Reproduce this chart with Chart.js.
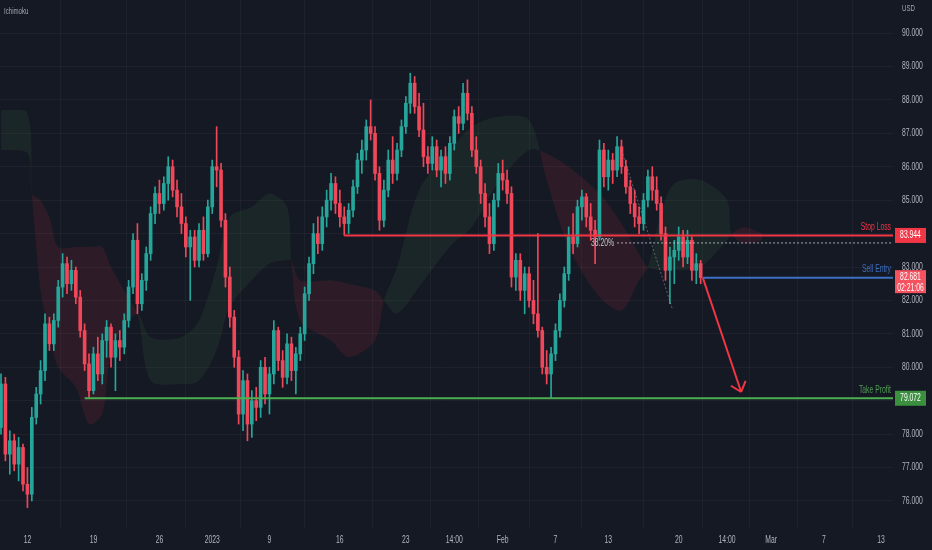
<!DOCTYPE html>
<html>
<head>
<meta charset="utf-8">
<script src="https://cdn.jsdelivr.net/npm/chart.js@4.4.1/dist/chart.umd.min.js"></script>
<style>
  html, body { margin: 0; padding: 0; background: #151924; }
  #wrap { width: 932px; height: 550px; }
</style>
</head>
<body>
<div id="wrap"><canvas id="brent" width="932" height="550"></canvas></div>
<script>
// 4h candles
const opens = [78.2,79.5,77.4,77.8,77.1,77.6,76.5,76.2,78.5,79.2,
  79.9,81.3,80.7,81.4,82.4,83.1,82.5,82.9,82.1,81.1,
  80.1,79.3,80.4,79.8,80.8,81.2,80.3,80.8,80.6,81.4,
  82.4,83.8,81.9,82.6,83.4,84.6,85.2,84.9,85.5,86.0,
  85.3,84.8,84.3,83.6,83.9,83.2,84.1,83.4,84.8,86.0,
  85.9,84.4,82.7,81.5,80.3,78.6,79.6,78.3,79.0,78.8,
  80.0,79.2,79.8,81.1,80.2,79.7,80.7,79.9,80.4,81.0,
  82.2,83.1,84.0,83.7,84.5,85.0,85.5,84.9,84.5,84.3,
  84.7,85.4,86.2,86.5,87.2,87.0,85.8,84.4,85.3,86.2,
  85.8,86.5,87.2,87.9,88.5,87.8,87.1,86.3,86.1,86.6,
  85.9,86.3,85.8,86.7,87.5,87.3,88.2,87.6,86.5,86.0,
  85.2,84.5,83.7,85.0,85.8,85.6,85.2,82.7,83.2,82.3,
  82.8,82.0,81.6,81.1,80.0,79.8,80.4,81.1,82.0,82.8,
  83.9,83.7,84.8,85.1,84.5,84.1,83.9,86.5,85.7,86.2,
  85.9,86.6,86.0,85.4,84.9,84.5,84.3,85.0,85.7,85.3,
  84.9,84.0,82.9,83.3,83.5,83.9,83.3,83.8,82.9,83.1];
const highs = [79.8,79.7,78.1,78.0,77.9,77.7,77.0,78.8,79.4,80.2,
  81.6,81.5,81.6,82.6,83.4,83.3,83.2,83.0,82.3,81.3,
  80.4,80.6,80.9,81.0,81.4,81.3,81.0,81.1,81.6,82.6,
  84.0,84.3,82.8,83.6,84.8,85.4,85.6,85.7,86.3,86.2,
  85.6,85.2,84.5,84.1,84.1,84.3,84.5,85.0,86.2,87.2,
  86.1,84.6,83.0,81.7,80.5,79.9,79.8,79.3,79.4,80.2,
  80.3,80.0,81.4,81.2,80.5,81.0,80.9,80.6,81.2,82.4,
  83.3,84.3,84.5,84.8,85.3,85.8,85.7,85.3,84.8,84.9,
  85.6,86.4,86.8,87.4,88.0,87.2,86.0,85.6,86.5,86.9,
  86.7,87.4,88.1,88.8,88.7,88.2,87.9,86.6,86.9,86.8,
  86.5,86.6,86.9,87.7,87.8,88.5,88.6,87.8,86.9,86.2,
  85.5,84.9,85.2,86.1,86.2,85.9,85.4,83.4,83.4,83.0,
  83.0,82.6,84.0,81.2,80.5,80.6,81.3,82.2,83.0,84.2,
  84.6,85.0,85.3,85.2,84.9,84.4,86.8,86.7,86.5,86.4,
  86.9,86.8,86.2,85.6,85.3,84.8,85.2,85.9,86.0,85.7,
  85.1,84.2,83.6,83.8,84.2,84.1,84.1,83.9,83.4,83.2];
const lows = [78.0,77.2,76.8,76.9,76.6,76.3,75.8,76.0,78.3,78.9,
  79.6,80.5,80.5,81.2,82.1,82.2,82.3,81.9,80.9,79.9,
  79.07,79.2,79.6,79.5,80.3,80.0,79.3,80.2,80.4,81.2,
  82.2,81.6,81.7,82.3,83.2,84.3,84.6,84.7,85.0,85.1,
  84.5,84.0,83.3,82.0,83.0,83.0,83.2,83.3,84.6,85.4,
  84.2,82.4,81.2,80.0,78.3,78.1,77.8,77.9,78.4,78.5,
  78.9,78.6,79.5,79.9,79.4,79.5,79.6,79.2,80.2,80.8,
  82.0,82.8,83.4,83.5,84.2,84.7,84.6,84.2,83.95,84.0,
  84.5,85.2,85.8,86.2,86.8,85.6,84.1,84.2,85.1,85.5,
  85.6,86.3,87.0,87.6,87.6,86.9,86.0,85.8,85.9,85.7,
  85.4,85.5,85.6,86.5,87.0,87.1,87.4,86.3,85.8,84.9,
  84.2,83.4,83.5,84.8,85.3,84.9,82.4,82.3,82.0,81.6,
  81.8,81.3,80.9,79.8,79.5,79.07,80.2,80.9,81.8,82.6,
  83.4,83.6,84.4,84.2,83.8,83.1,83.8,85.4,85.3,85.5,
  85.7,85.8,85.2,84.6,84.2,84.0,84.1,84.8,85.0,84.7,
  83.8,82.6,81.9,82.5,83.2,83.0,83.1,82.6,82.5,82.5];
const closes = [79.5,77.4,77.8,77.1,77.6,76.5,76.2,78.5,79.2,79.9,
  81.3,80.7,81.4,82.4,83.1,82.5,82.9,82.1,81.1,80.1,
  79.3,80.4,79.8,80.8,81.2,80.3,80.8,80.6,81.4,82.4,
  83.8,81.9,82.6,83.4,84.6,85.2,84.9,85.5,86.0,85.3,
  84.8,84.3,83.6,83.9,83.2,84.1,83.4,84.8,86.0,85.9,
  84.4,82.7,81.5,80.3,78.6,79.6,78.3,79.0,78.8,80.0,
  79.2,79.8,81.1,80.2,79.7,80.7,79.9,80.4,81.0,82.2,
  83.1,84.0,83.7,84.5,85.0,85.5,84.9,84.5,84.3,84.7,
  85.4,86.2,86.5,87.2,87.0,85.8,84.4,85.3,86.2,85.8,
  86.5,87.2,87.9,88.5,87.8,87.1,86.3,86.1,86.6,85.9,
  86.3,85.8,86.7,87.5,87.3,88.2,87.6,86.5,86.0,85.2,
  84.5,83.7,85.0,85.8,85.6,85.2,82.7,83.2,82.3,82.8,
  82.0,81.6,81.1,80.0,79.8,80.4,81.1,82.0,82.8,83.9,
  83.7,84.8,85.1,84.5,84.1,83.9,86.5,85.7,86.2,85.9,
  86.6,86.0,85.4,84.9,84.5,84.3,85.0,85.7,85.3,84.9,
  84.0,82.9,83.3,83.5,83.9,83.3,83.8,82.9,83.1,82.68];

// ichimoku cloud (leading spans, already shifted forward)
const cloudIdx = [0,6,7,9,11,13,17,20,23,25,28,31,34,41,45,49,52,57,61,65,66,68,75,79,85,87,90,95,
  102,107,113,120,124,129,136,141,145,147,150,153,159,165,166,169,173];
const spanA = [87.7,87.6,85.2,82.3,81.0,80.0,79.4,78.3,78.6,80.5,81.2,81.6,80.9,80.9,81.4,83.0,84.5,84.8,85.2,84.8,83.2,81.4,80.8,80.3,80.8,82.0,83.0,85.3,
  86.5,87.2,87.5,87.4,85.6,83.6,82.1,81.7,82.6,83.0,84.6,85.5,85.6,85.0,84.0,83.7,83.8];
const spanB = [86.5,86.4,85.2,85.0,84.5,83.6,83.6,83.6,83.6,83.0,82.3,81.6,79.6,79.5,79.6,80.5,81.8,82.6,83.1,83.2,83.2,82.6,82.6,82.5,82.3,82.0,81.6,82.4,
  83.6,84.2,85.5,86.5,86.4,86.0,85.2,84.3,83.4,83.0,82.9,82.9,83.0,83.8,84.0,84.2,84.0];

// trade levels
const stopLoss = 83.944;
const sellEntry = 82.681;
const takeProfit = 79.072;
const fibLevel = 83.72;
const fibLabel = '38.20%';
const countdown = '02:21:06';
const stopFrom = 78, entryFrom = 159.5, takeFrom = 19, fibFrom = 140;
const fibLineX = [141, 152.5], fibLineY = [86.5, 81.77];
const arrowX = [159.5, 168.2], arrowY = [82.67, 79.26];

// axes
const xTickIdx = [6,21,36,48,61,77,92,103,114,126,138,154,165,175,187,200];
const xTickLabels = ['12','19','26','2023','9','16','23','14:00','Feb','7','13','20','14:00','Mar','7','13'];
const yTicks = [76,77,78,79,80,81,82,83,84,85,86,87,88,89,90];
const xMin = -0.23, xMax = 202.7, yMin = 75.19, yMax = 90.99;

const bg = '#151924';
const upColor = '#26a69a', downColor = '#f0475a';
const fontFamily = "'Liberation Sans', Arial, sans-serif";
const squeeze = 0.68; // the screenshot text is horizontally narrow
const idx = closes.map((c, i) => i);
const candleColors = closes.map((c, i) => c >= opens[i] ? upColor : downColor);

function level(from, price, color, width, dash) {
  return {
    type: 'line',
    data: [{x: from, y: price}, {x: xMax, y: price}],
    borderColor: color, borderWidth: width, borderDash: dash || [],
    pointRadius: 0, fill: false, order: 1
  };
}

function narrowText(ctx, text, x, y, align, size) {
  ctx.save();
  ctx.translate(x, y);
  ctx.scale(squeeze, 1);
  ctx.font = (size || 10) + 'px ' + fontFamily;
  ctx.textAlign = align;
  ctx.fillText(text, 0, 0);
  ctx.restore();
}

function tag(ctx, area, y, color, lines) {
  const h = lines.length > 1 ? 23 : 15;
  ctx.fillStyle = color;
  ctx.fillRect(area.right + 2, y - 7.5, 31, h);
  ctx.fillStyle = '#ffffff';
  ctx.textBaseline = 'middle';
  lines.forEach((t, k) => narrowText(ctx, t, area.right + 17.5, y + k * 11, 'center'));
}

const overlay = {
  id: 'overlay',
  beforeDraw(chart) {
    const ctx = chart.ctx;
    ctx.save();
    ctx.fillStyle = bg;
    ctx.fillRect(0, 0, chart.width, chart.height);
    ctx.restore();
  },
  afterDraw(chart) {
    const {ctx, chartArea, scales: {x, y}} = chart;
    ctx.save();
    // arrow head
    const p0x = x.getPixelForValue(arrowX[0]), p0y = y.getPixelForValue(arrowY[0]);
    const p1x = x.getPixelForValue(arrowX[1]), p1y = y.getPixelForValue(arrowY[1]);
    const ang = Math.atan2(p1y - p0y, p1x - p0x);
    ctx.strokeStyle = '#f23645';
    ctx.lineWidth = 2;
    ctx.beginPath();
    [-0.7, 0.7].forEach(d => {
      ctx.moveTo(p1x, p1y);
      ctx.lineTo(p1x - 12 * Math.cos(ang + d), p1y - 12 * Math.sin(ang + d));
    });
    ctx.stroke();

    // axis labels
    ctx.fillStyle = '#b2b5be';
    ctx.textBaseline = 'middle';
    y.ticks.forEach(t => narrowText(ctx, t.value.toFixed(3), chartArea.right + 9, y.getPixelForValue(t.value), 'left'));
    x.ticks.forEach((t, k) => narrowText(ctx, xTickLabels[k], x.getPixelForValue(t.value), chartArea.bottom + 12, 'center'));

    // line captions
    ctx.textBaseline = 'bottom';
    ctx.fillStyle = '#f23645';
    narrowText(ctx, 'Stop Loss', chartArea.right - 2, y.getPixelForValue(stopLoss) - 3, 'right');
    ctx.fillStyle = '#3d6fc2';
    narrowText(ctx, 'Sell Entry', chartArea.right - 2, y.getPixelForValue(sellEntry) - 3, 'right');
    ctx.fillStyle = '#4f9b52';
    narrowText(ctx, 'Take Profit', chartArea.right - 2, y.getPixelForValue(takeProfit) - 3, 'right');
    ctx.fillStyle = '#c3c6ce';
    ctx.textBaseline = 'middle';
    narrowText(ctx, fibLabel, x.getPixelForValue(fibFrom) - 3, y.getPixelForValue(fibLevel), 'right');

    // corner texts
    ctx.fillStyle = '#a3a6af';
    narrowText(ctx, 'Ichimoku', 4, 12, 'left', 9);
    narrowText(ctx, 'USD', chartArea.right + 9, 9, 'left', 9);

    // price tags
    tag(ctx, chartArea, y.getPixelForValue(stopLoss), '#f23645', [stopLoss.toFixed(3)]);
    tag(ctx, chartArea, y.getPixelForValue(sellEntry), '#f5515f', [sellEntry.toFixed(3), countdown]);
    tag(ctx, chartArea, y.getPixelForValue(takeProfit), '#3b8f3f', [takeProfit.toFixed(3)]);
    ctx.restore();
  }
};

let ctx = document.getElementById('brent').getContext('2d');
let brentChart = new Chart(ctx, {
  type: 'bar',
  data: {
    datasets: [
      {
        type: 'line', label: 'Senkou A',
        data: cloudIdx.map((v, k) => ({x: v, y: spanA[k]})),
        borderColor: 'transparent', borderWidth: 0, pointRadius: 0, tension: 0.3,
        fill: {target: '+1', above: 'rgba(76,175,80,0.09)', below: 'rgba(242,54,69,0.11)'},
        order: 10
      },
      {
        type: 'line', label: 'Senkou B',
        data: cloudIdx.map((v, k) => ({x: v, y: spanB[k]})),
        borderColor: 'transparent', borderWidth: 0, pointRadius: 0, tension: 0.3,
        fill: false, order: 11
      },
      {
        type: 'bar', label: 'wicks',
        data: idx.map(i => ({x: i, y: [lows[i], highs[i]]})),
        backgroundColor: candleColors, barThickness: 1, grouped: false, order: 6
      },
      {
        type: 'bar', label: 'bodies',
        data: idx.map(i => ({x: i, y: [opens[i], closes[i]]})),
        backgroundColor: candleColors, barThickness: 3, minBarLength: 1, grouped: false, order: 5
      },
      level(takeFrom, takeProfit, '#4caf50', 2),
      level(stopFrom, stopLoss, '#f23645', 2),
      level(entryFrom, sellEntry, '#3d6fc2', 2),
      level(fibFrom, fibLevel, 'rgba(215,218,226,0.75)', 1, [2, 2]),
      {
        type: 'line', label: 'fib',
        data: fibLineX.map((v, k) => ({x: v, y: fibLineY[k]})),
        borderColor: 'rgba(150,155,170,0.55)', borderWidth: 1, borderDash: [2, 2],
        pointRadius: 0, fill: false, order: 2
      },
      {
        type: 'line', label: 'arrow',
        data: arrowX.map((v, k) => ({x: v, y: arrowY[k]})),
        borderColor: '#f23645', borderWidth: 2, pointRadius: 0, fill: false, order: 1
      }
    ]
  },
  plugins: [overlay],
  options: {
    responsive: false,
    animation: false,
    layout: {padding: 0},
    plugins: {
      legend: {display: false},
      tooltip: {enabled: false}
    },
    scales: {
      x: {
        type: 'linear',
        min: xMin, max: xMax,
        offset: false,
        afterBuildTicks(scale) { scale.ticks = xTickIdx.map(v => ({value: v})); },
        afterFit(scale) { scale.height = 22; },
        grid: {color: 'rgba(255,255,255,0.035)', drawTicks: false},
        border: {display: false},
        ticks: {display: false}
      },
      y: {
        type: 'linear',
        position: 'right',
        min: yMin, max: yMax,
        afterBuildTicks(scale) { scale.ticks = yTicks.map(v => ({value: v})); },
        afterFit(scale) { scale.width = 39; },
        grid: {color: 'rgba(255,255,255,0.045)', drawTicks: false},
        border: {display: false},
        ticks: {display: false}
      }
    }
  }
});
</script>
</body>
</html>
